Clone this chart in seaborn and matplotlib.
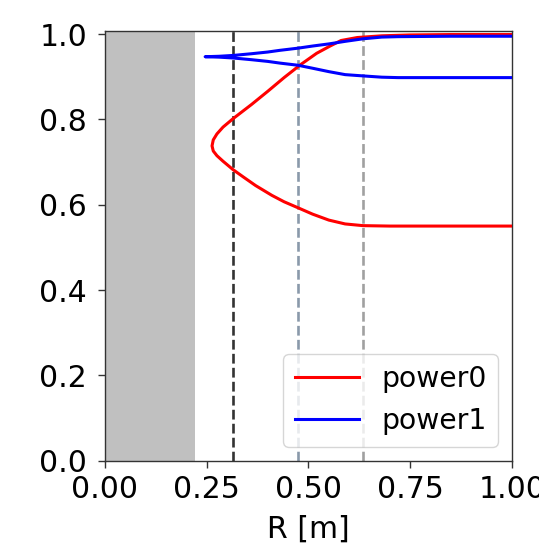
import matplotlib
matplotlib.use("Agg")
import matplotlib.pyplot as plt
import seaborn as sns
import pandas as pd

# Power fraction along major radius for two power curves
r_power0 = [1.00, 0.85, 0.75, 0.68, 0.62, 0.58, 0.553, 0.52, 0.48, 0.44, 0.40,
            0.36, 0.315, 0.29, 0.275, 0.266, 0.263, 0.266, 0.275, 0.29, 0.315,
            0.34, 0.37, 0.41, 0.44, 0.474, 0.51, 0.55, 0.59, 0.634, 0.70, 0.85, 1.00]
p_power0 = [0.999, 0.999, 0.998, 0.996, 0.992, 0.985, 0.972, 0.955, 0.928, 0.898, 0.866,
            0.835, 0.802, 0.782, 0.766, 0.752, 0.738, 0.726, 0.715, 0.702, 0.682,
            0.665, 0.645, 0.622, 0.607, 0.593, 0.578, 0.564, 0.555, 0.551, 0.550, 0.550, 0.550]

r_power1 = [1.00, 0.85, 0.72, 0.68, 0.634, 0.59, 0.55, 0.51, 0.474, 0.43, 0.40,
            0.36, 0.315, 0.28, 0.246, 0.28, 0.315, 0.36, 0.40, 0.43, 0.474,
            0.51, 0.55, 0.59, 0.634, 0.68, 0.72, 0.85, 1.00]
p_power1 = [0.995, 0.995, 0.994, 0.993, 0.989, 0.983, 0.977, 0.972, 0.967, 0.962, 0.958,
            0.954, 0.950, 0.948, 0.947, 0.946, 0.944, 0.940, 0.936, 0.932, 0.927,
            0.920, 0.912, 0.905, 0.902, 0.899, 0.898, 0.898, 0.898]

# Radial markers and the excluded inner region
r_markers = [0.315, 0.474, 0.634]
marker_colors = ["#333333", "#8a99aa", "#a0a0a0"]
r_inner_edge = 0.221

df0 = pd.DataFrame({"R": r_power0, "P": p_power0})
df1 = pd.DataFrame({"R": r_power1, "P": p_power1})

plt.rcParams["font.family"] = ["DejaVu Sans"]
fig = plt.figure(figsize=(5.39, 5.48), dpi=100)
ax = fig.add_axes([0.1948, 0.1593, 0.7551, 0.7847])

ax.axvspan(0, r_inner_edge, color="#c0c0c0", lw=0, zorder=0)
for rm, c in zip(r_markers, marker_colors):
    ax.axvline(rm, color=c, ls="--", lw=1.9, zorder=1)

sns.lineplot(data=df0, x="R", y="P", sort=False, estimator=None, color="red",
             lw=2.2, label="power0", ax=ax, zorder=3)
sns.lineplot(data=df1, x="R", y="P", sort=False, estimator=None, color="blue",
             lw=2.2, label="power1", ax=ax, zorder=4)

ax.set_xlim(0, 1.0)
ax.set_ylim(0, 1.008)
ax.set_xticks([0.0, 0.25, 0.5, 0.75, 1.0])
ax.set_yticks([0.0, 0.2, 0.4, 0.6, 0.8, 1.0])
ax.tick_params(labelsize=21.5, length=5, width=1.0, color="#333333")
ax.tick_params(axis="x", pad=5)
ax.tick_params(axis="y", pad=8)
for s in ax.spines.values():
    s.set_color("#333333")
    s.set_linewidth(1.0)
ax.set_xlabel("R [m]", fontsize=21.5, labelpad=8)
ax.set_ylabel("")
ax.legend(loc="lower right", fontsize=20.3, handlelength=2.27,
          handletextpad=0.8, borderaxespad=0.5)

fig.savefig("out.png", dpi=100)
